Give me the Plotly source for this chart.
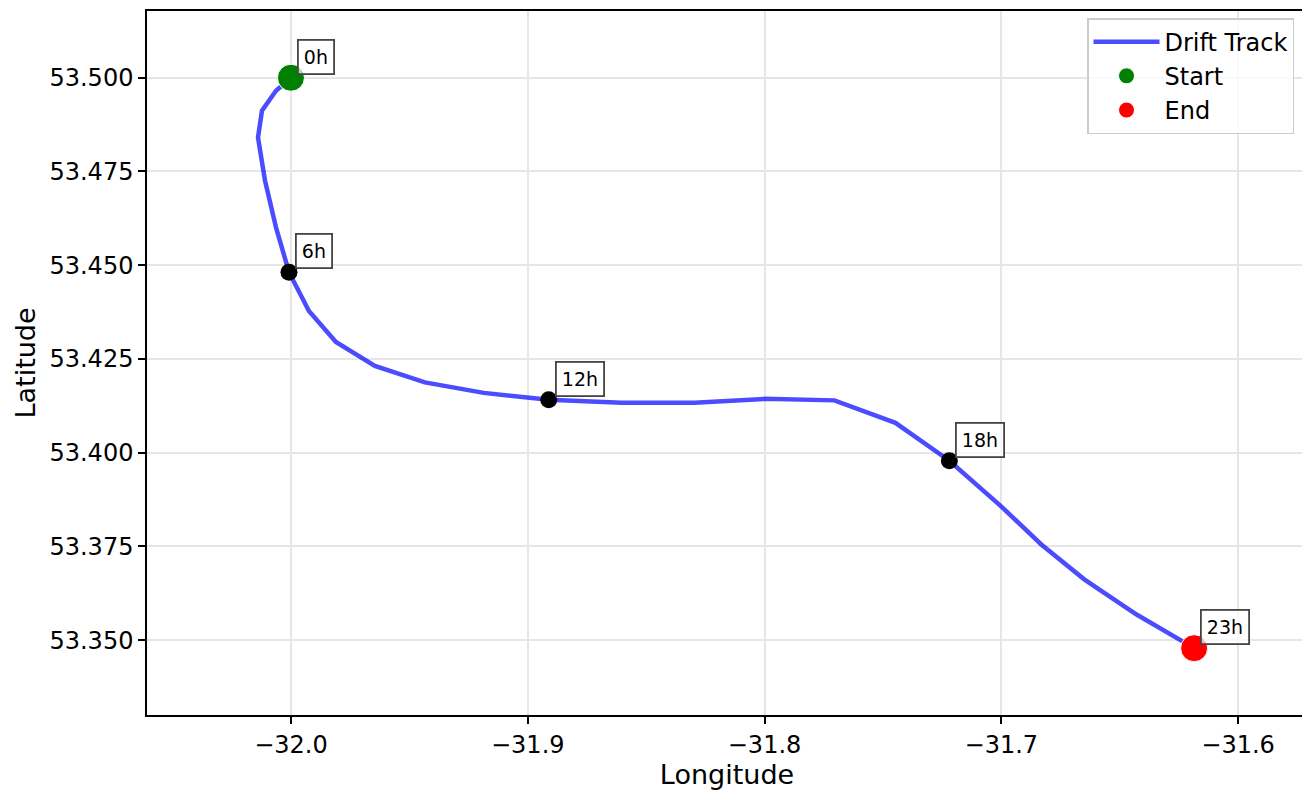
import plotly.graph_objects as go

hours = list(range(24))
lon = [-32.0, -32.00633, -32.01224, -32.01392, -32.01097, -32.00633, -32.00084,
       -31.99241, -31.98101, -31.96456, -31.94346, -31.91857, -31.89114,
       -31.86034, -31.82954, -31.80000, -31.77046, -31.74473, -31.72194,
       -31.70042, -31.68312, -31.66498, -31.64304, -31.61857]
lat = [53.50000, 53.49654, 53.49122, 53.48404, 53.47261, 53.46011, 53.44814,
       53.43777, 53.42952, 53.42314, 53.41875, 53.41596, 53.41410,
       53.41330, 53.41330, 53.41436, 53.41396, 53.40798, 53.39787,
       53.38590, 53.37553, 53.36622, 53.35691, 53.34787]
label_hours = [0, 6, 12, 18, 23]
x_ticks = [-32.0, -31.9, -31.8, -31.7, -31.6]
x_ticktext = ["\u221232.0", "\u221231.9", "\u221231.8", "\u221231.7", "\u221231.6"]
y_ticks = [53.350, 53.375, 53.400, 53.425, 53.450, 53.475, 53.500]

FONT = "DejaVu Sans"

fig = go.Figure()
fig.add_trace(go.Scatter(x=lon, y=lat, mode="lines", name="Drift Track",
                         line=dict(color="rgba(0,0,255,0.7)", width=4.5)))
mid = [h for h in label_hours if h not in (0, 23)]
fig.add_trace(go.Scatter(x=[lon[h] for h in mid], y=[lat[h] for h in mid],
                         mode="markers", showlegend=False,
                         marker=dict(color="black", size=17)))
fig.add_trace(go.Scatter(x=[lon[0]], y=[lat[0]], mode="markers", name="Start",
                         marker=dict(color="green", size=27, line=dict(color="white", width=1))))
fig.add_trace(go.Scatter(x=[lon[-1]], y=[lat[-1]], mode="markers", name="End",
                         marker=dict(color="red", size=27, line=dict(color="white", width=1))))

for h in label_hours:
    fig.add_annotation(x=lon[h], y=lat[h], text=f"{h}h", showarrow=False,
                       xanchor="left", yanchor="bottom", xshift=6, yshift=3,
                       font=dict(family=FONT, size=19, color="black"),
                       bgcolor="rgba(255,255,255,0.7)", bordercolor="#444444",
                       borderwidth=1.8, borderpad=5)

axis_common = dict(showline=True, linecolor="black", linewidth=1.5, mirror=True,
                   ticks="outside", ticklen=7, tickwidth=1.5, tickcolor="black",
                   showgrid=True, gridcolor="#e6e6e6", gridwidth=1.5, zeroline=False,
                   tickfont=dict(family=FONT, size=24, color="black"))

fig.update_layout(
    width=1302, height=790,
    margin=dict(l=139, r=2, t=1, b=83),
    paper_bgcolor="white", plot_bgcolor="white",
    font=dict(family=FONT, color="black"),
    xaxis=dict(range=[-32.0608, -31.5709], tickvals=x_ticks, ticktext=x_ticktext,
               title=dict(text="Longitude", font=dict(family=FONT, size=27), standoff=6),
               **axis_common),
    yaxis=dict(range=[53.33005, 53.5178], tickvals=y_ticks, tickformat=".3f",
               title=dict(text="Latitude", font=dict(family=FONT, size=27), standoff=6),
               **axis_common),
    legend=dict(x=0.9888, y=0.99, xanchor="right", yanchor="top", itemwidth=66,
                bgcolor="rgba(255,255,255,0.8)", bordercolor="#cccccc", borderwidth=1.5,
                font=dict(family=FONT, size=24, color="black")),
)

fig.write_html("out.html")
